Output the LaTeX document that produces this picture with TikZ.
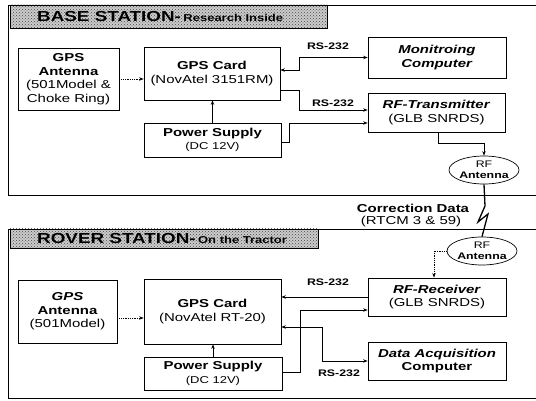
\documentclass[tikz,border=0pt]{standalone}
\usepackage{fontspec}
\setmainfont[FakeStretch=1.3]{Liberation Sans}
\usetikzlibrary{arrows.meta,shapes.geometric,patterns,calc}
\begin{document}
\begin{tikzpicture}[x=1pt,y=-1pt,
  box/.style={draw,line width=0.7pt,align=center,inner sep=1pt,font=\fontsize{11.5}{13.5}\selectfont},
  oval/.style={draw,ellipse,line width=0.7pt,align=center,inner sep=0pt,font=\fontsize{9.5}{10.5}\selectfont},
  conn/.style={line width=0.8pt},
  arr/.style={-{Stealth[length=4.5pt,width=3.5pt]}},
  darr/.style={{Stealth[length=4.5pt,width=3.5pt]}-{Stealth[length=4.5pt,width=3.5pt]}},
  lbl/.style={font=\bfseries\fontsize{9.5}{10}\selectfont,inner sep=0pt},
  frame/.style={line width=0.8pt},
  ttl/.style={anchor=west,inner sep=0pt}
]
\useasboundingbox (0,0) rectangle (536,401);

% ---------- BASE STATION ----------
\fill[gray!40] (10,5) rectangle (327,28);
\fill[pattern=crosshatch dots,pattern color=gray!55!black] (10,5) rectangle (327,28);
\draw[frame] (10,5) rectangle (327,28);
\draw[frame] (536,5) -- (8,5) -- (8,195) -- (536,195);
\node[ttl] (tA) at (37,16.5) {\fontsize{14.5}{14.5}\selectfont\textbf{BASE STATION-}\,{\fontsize{10}{10}\selectfont\textbf{Research Inside}}};

\node[box,minimum width=101pt,minimum height=62pt] (antA) at (68.5,79) {\textbf{GPS}\\\textbf{Antenna}\\(501Model \&\\Choke Ring)};
\node[box,minimum width=136pt,minimum height=53pt] (cardA) at (212,73.5) {\textbf{GPS Card}\\(NovAtel 3151RM)};
\node[box,minimum width=137pt,minimum height=34pt] (powA) at (212.5,140) {\textbf{Power Supply}\\{\fontsize{10}{11}\selectfont (DC 12V)}};
\node[box,minimum width=138pt,minimum height=41pt] (monA) at (437,57.5) {\textbf{\itshape Monitroing}\\\textbf{\itshape Computer}};
\node[box,minimum width=137pt,minimum height=39pt] (txA) at (436.5,112.5) {\textbf{\itshape RF-Transmitter}\\(GLB SNRDS)};
\node[oval,minimum width=70pt,minimum height=28pt] (rfA) at (484,170) {RF\\\textbf{Antenna}};

\draw[conn,densely dotted,arr] (antA.east) -- (cardA.west |- antA.east);
\draw[conn,darr] ([yshift=3.5pt]cardA.east) -- ++(19,0) |- (monA.west);
\node[lbl] (l1) at (328,46) {RS-232};
\draw[conn,arr] ([yshift=-16.5pt]cardA.east) -- ++(19,0) |- ([yshift=2.5pt]txA.west);
\node[lbl] (l2) at (333,103) {RS-232};
\draw[conn,arr] ([yshift=-2pt]powA.east) -- ++(8,0) |- ([yshift=-10.5pt]txA.west);
\draw[conn,arr] (powA.north) -- (powA.north |- cardA.south);
\draw[conn,arr] ([xshift=1.5pt]txA.south) -- ++(0,11) -| (rfA.north);

% ---------- link ----------
\node[font=\bfseries\fontsize{11.5}{12}\selectfont,inner sep=0pt] (cd) at (413,208) {Correction Data};
\node[font=\fontsize{11.5}{12}\selectfont,inner sep=0pt] (rt) at (411,222) {(RTCM 3 \& 59)};

% ---------- ROVER STATION ----------
\fill[gray!40] (10,229) rectangle (318,248);
\fill[pattern=crosshatch dots,pattern color=gray!55!black] (10,229) rectangle (318,248);
\draw[frame] (10,229) rectangle (318,248);
\draw[frame] (536,229) -- (8,229) -- (8,398) -- (536,398);
\node[ttl] (tB) at (37,238.5) {\fontsize{14.5}{14.5}\selectfont\textbf{ROVER STATION-}\,{\fontsize{10}{10}\selectfont\textbf{On the Tractor}}};

\node[box,minimum width=99pt,minimum height=63pt] (antB) at (67.5,311.5) {\textbf{\itshape GPS}\\\textbf{Antenna}\\(501Model)};
\node[box,minimum width=137pt,minimum height=65pt] (cardB) at (212.5,311.5) {\textbf{GPS Card}\\(NovAtel RT-20)};
\node[box,minimum width=138pt,minimum height=33pt] (powB) at (213,373.5) {\textbf{Power Supply}\\{\fontsize{10}{11}\selectfont (DC 12V)}};
\node[box,minimum width=138pt,minimum height=38pt] (rxB) at (437,297) {\textbf{\itshape RF-Receiver}\\(GLB SNRDS)};
\node[box,minimum width=138pt,minimum height=38pt] (daqB) at (437,361) {\textbf{\itshape Data Acquisition}\\\textbf{Computer}};
\node[oval,minimum width=66pt,minimum height=28pt] (rfB) at (482,251) {RF\\\textbf{Antenna}};

\draw[conn,line width=1.3pt] (rfA.south) -- (485,206) -- (478,222) -- (488,214) -- (rfB.north);

\draw[conn,densely dotted,arr] ([yshift=-6.5pt]antB.east) -- ([yshift=-6.5pt]cardB.west);
\draw[conn,densely dotted,arr] (rfB.west) -| ([xshift=-3pt]rxB.north);
\draw[conn,arr] (rxB.west) -- (cardB.east |- rxB.west);
\node[lbl] (l3) at (328,282) {RS-232};
\draw[conn,arr] ([yshift=1.5pt]powB.east) -- ++(18,0) |- ([yshift=-13pt]rxB.west);
\draw[conn,darr] ([yshift=-15.5pt]cardB.east) -- ++(41,0) |- (daqB.west);
\node[lbl] (l4) at (339,373) {RS-232};
\draw[conn,arr] (powB.north) -- (powB.north |- cardB.south);
\end{tikzpicture}
\end{document}
